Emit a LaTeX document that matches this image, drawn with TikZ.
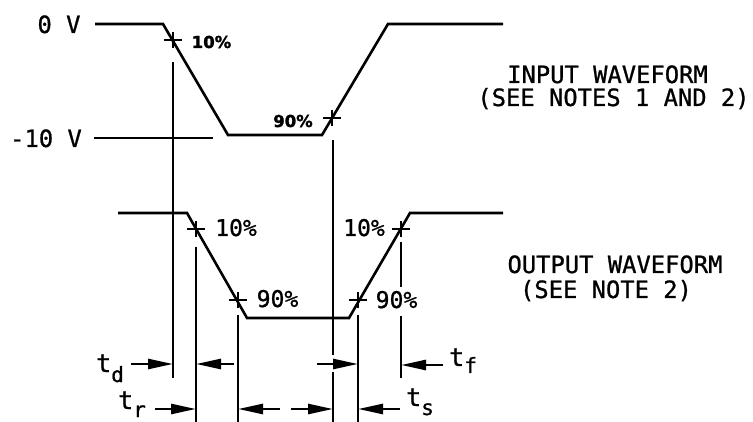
\documentclass[tikz,border=0pt]{standalone}
\usepackage{fontspec}
\newfontfamily\cad{DejaVu Sans Mono}[FakeBold=0.9]
\newfontfamily\pctfont{DejaVu Sans Bold}[FakeBold=1.6]
\usetikzlibrary{arrows.meta}
\tikzset{
  wave/.style={line width=2.6pt},
  guide/.style={line width=2.6pt},
  crossmark/.style={line width=2.2pt},
  dimarrow/.style={line width=2.6pt,-{Triangle[length=25pt,width=10pt]}},
  lbl/.style={inner sep=0pt,anchor=base,font=\cad\fontsize{23.8}{26}\selectfont},
  pct/.style={inner sep=0pt,anchor=base,font=\cad\fontsize{23}{26}\selectfont},
  bpct/.style={inner sep=0pt,anchor=base,font=\pctfont\fontsize{16.5}{20}\selectfont},
  tlbl/.style={inner sep=0pt,anchor=base west,font=\cad\fontsize{25}{26}\selectfont},
}
\newcommand{\sbx}[2]{\raisebox{#1}{\fontsize{21}{21}\selectfont #2}}
\begin{document}
\begin{tikzpicture}[x=1pt,y=-1pt]
\useasboundingbox (0,0) rectangle (753,422);
% ---- labels
\node[lbl] (zeroV) at (59,33) {0 V};
\node[lbl] (tenV) at (46,147) {-10 V};
\node[lbl] (inw1) at (607.5,83) {INPUT WAVEFORM};
\node[lbl] (inw2) at (613.5,106) {(SEE NOTES 1 AND 2)};
\node[lbl] (outw1) at (615,273) {OUTPUT WAVEFORM};
\node[lbl] (outw2) at (606,298) {(SEE NOTE 2)};
\node[bpct] (ip10) at (211.5,48) {10\%};
\node[bpct] (ip90) at (293,127) {90\%};
\node[pct] (op10a) at (236,236) {10\%};
\node[pct] (op90a) at (277.5,307) {90\%};
\node[pct] (op10b) at (364,236) {10\%};
\node[pct] (op90b) at (396.5,308) {90\%};
\node[tlbl] (td) at (96,372) {t\sbx{-10pt}{d}};
\node[tlbl] (tr) at (118,409) {t\sbx{-8pt}{r}};
\node[tlbl] (tf) at (449,366) {t\sbx{-7pt}{f}};
\node[tlbl] (ts) at (406,406) {t\sbx{-9pt}{s}};
% ---- input waveform
\coordinate (i0) at (95,24);
\coordinate (i1) at (163,24);
\coordinate (i2) at (228,135);
\coordinate (i3) at (322,135);
\coordinate (i4) at (388,24);
\coordinate (i5) at (503,24);
\draw[wave] (i0) -- (i1) -- (i2) -- (i3) -- (i4) -- (i5);
\coordinate (m0) at (94,138);
\coordinate (m1) at (213,138);
\draw[guide] (m0) -- (m1);
% ---- output waveform
\coordinate (o0) at (118,213);
\coordinate (o1) at (187,213);
\coordinate (o2) at (247,318);
\coordinate (o3) at (349,318);
\coordinate (o4) at (410,213);
\coordinate (o5) at (503,213);
\draw[wave] (o0) -- (o1) -- (o2) -- (o3) -- (o4) -- (o5);
% ---- crosses
\foreach \n/\x/\y in {ca/173/40, cb/332/118, cc/196/229, cd/238/300, ce/358/300, cf/401/229}{
  \coordinate (\n) at (\x,\y);
  \draw[crossmark] ([xshift=-9pt]\n) -- ([xshift=9pt]\n);
  \draw[crossmark] ([yshift=-8pt]\n) -- ([yshift=8pt]\n);
}
% ---- vertical guides
\coordinate (v1a) at (173,62);  \coordinate (v1b) at (173,378);
\coordinate (v2a) at (333,140); \coordinate (v2b) at (333,355);
\coordinate (v2c) at (333,372); \coordinate (v2d) at (333,422);
\coordinate (v3a) at (196,247); \coordinate (v3b) at (196,422);
\coordinate (v4a) at (238,315); \coordinate (v4b) at (238,422);
\coordinate (v5a) at (358,315); \coordinate (v5b) at (358,422);
\coordinate (v6a) at (401,242); \coordinate (v6b) at (401,287);
\coordinate (v6c) at (401,316); \coordinate (v6d) at (401,378);
\draw[guide] (v1a) -- (v1b);
\draw[guide] (v2a) -- (v2b);
\draw[guide] (v2c) -- (v2d);
\draw[guide] (v3a) -- (v3b);
\draw[guide] (v4a) -- (v4b);
\draw[guide] (v5a) -- (v5b);
\draw[guide] (v6a) -- (v6b);
\draw[guide] (v6c) -- (v6d);
% ---- dimension arrows
\coordinate (a1s) at (131,364); \coordinate (a1e) at (173,364);
\coordinate (a2s) at (234,364); \coordinate (a2e) at (196,364);
\coordinate (a3s) at (317,364); \coordinate (a3e) at (358,364);
\coordinate (a4s) at (443,365); \coordinate (a4e) at (401,365);
\coordinate (a5s) at (155,409); \coordinate (a5e) at (196,409);
\coordinate (a6s) at (280,409); \coordinate (a6e) at (238,409);
\coordinate (a7s) at (291,409); \coordinate (a7e) at (333,409);
\coordinate (a8s) at (400,409); \coordinate (a8e) at (358,409);
\foreach \k in {1,...,8}{\draw[dimarrow] (a\k s) -- (a\k e);}
\end{tikzpicture}
\end{document}
